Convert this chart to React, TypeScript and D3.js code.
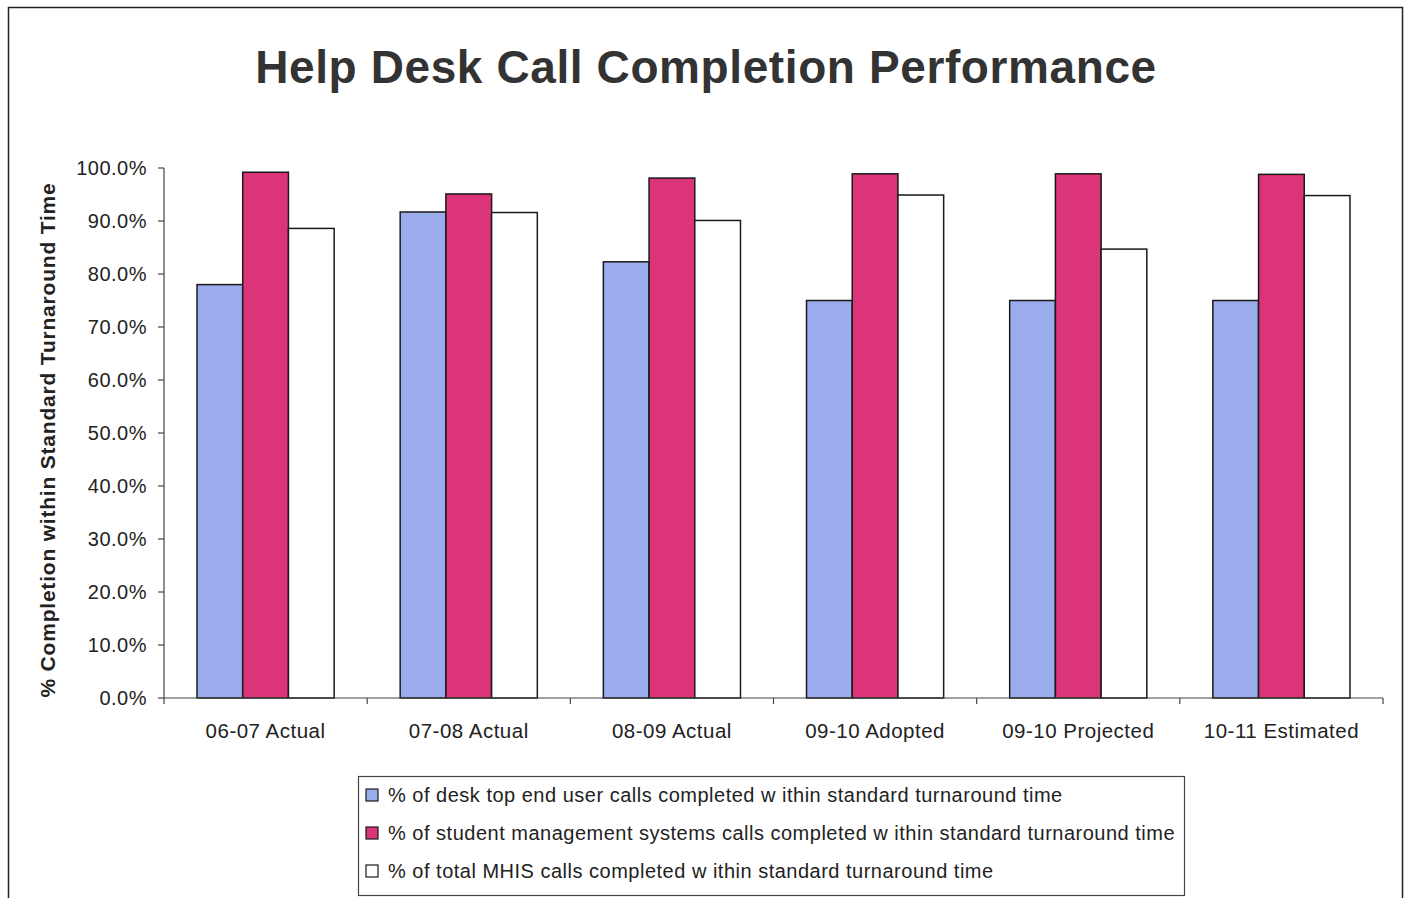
import React, { useEffect, useRef } from "react";
import * as d3 from "d3";

const categories = ["06-07 Actual", "07-08 Actual", "08-09 Actual", "09-10 Adopted", "09-10 Projected", "10-11 Estimated"];
const seriesNames = [
  "% of desk top end user calls completed w ithin standard turnaround time",
  "% of student management systems calls completed w ithin standard turnaround time",
  "% of total MHIS calls completed w ithin standard turnaround time",
];
const deskTop = [78.0, 91.7, 82.3, 75.0, 75.0, 75.0];
const studentMgmt = [99.2, 95.1, 98.1, 98.9, 98.9, 98.8];
const totalMhis = [88.6, 91.6, 90.1, 94.9, 84.7, 94.8];
const seriesColors = ["#9aaceb", "#dc3478", "#ffffff"];
const yTicks = [0, 10, 20, 30, 40, 50, 60, 70, 80, 90, 100];

const App = () => {
  const svgRef = useRef<SVGSVGElement>(null);

  useEffect(() => {
    const svg = d3.select(svgRef.current);
    svg.selectAll("*").remove();
    const font = "'Liberation Sans', Arial, sans-serif";

    const left = 164;
    const right = 1383;
    const top = 168;
    const bottom = 698;

    // outer frame
    svg.append("rect")
      .attr("x", 8.5).attr("y", 7.5).attr("width", 1394).attr("height", 900)
      .attr("fill", "#fff").attr("stroke", "#222").attr("stroke-width", 1.5);

    svg.append("text")
      .attr("x", 706).attr("y", 83)
      .attr("text-anchor", "middle")
      .attr("font-family", font).attr("font-weight", "bold")
      .attr("font-size", 46).attr("letter-spacing", 0.6).attr("fill", "#333")
      .text("Help Desk Call Completion Performance");

    const x0 = d3.scaleBand().domain(categories).range([left, right]).paddingInner(0.325).paddingOuter(0.1625);
    const step = (right - left) / categories.length;
    const groupW = x0.bandwidth();
    const x1 = d3.scaleBand().domain(["0", "1", "2"]).range([0, groupW]);
    const y = d3.scaleLinear().domain([0, 100]).range([bottom, top]);

    const allSeries = [deskTop, studentMgmt, totalMhis];
    allSeries.forEach((vals, si) => {
      svg.append("g").selectAll("rect")
        .data(vals)
        .join("rect")
        .attr("x", (_d, i) => (x0(categories[i]) as number) + (x1(String(si)) as number))
        .attr("y", (d) => y(d))
        .attr("width", x1.bandwidth())
        .attr("height", (d) => bottom - y(d))
        .attr("fill", seriesColors[si])
        .attr("stroke", "#1a1a1a")
        .attr("stroke-width", 1.5);
    });

    // y axis
    const ya = svg.append("g");
    ya.append("line").attr("x1", left).attr("x2", left).attr("y1", top).attr("y2", bottom)
      .attr("stroke", "#444").attr("stroke-width", 1.2);
    yTicks.forEach((t) => {
      ya.append("line").attr("x1", left - 6).attr("x2", left).attr("y1", y(t)).attr("y2", y(t))
        .attr("stroke", "#444").attr("stroke-width", 1.2);
      ya.append("text")
        .attr("x", 147).attr("y", y(t) + 7)
        .attr("text-anchor", "end")
        .attr("font-family", font).attr("font-size", 20).attr("letter-spacing", 0.5).attr("fill", "#222")
        .text(t.toFixed(1) + "%");
    });

    // x axis
    const xa = svg.append("g");
    xa.append("line").attr("x1", left).attr("x2", right).attr("y1", bottom).attr("y2", bottom)
      .attr("stroke", "#444").attr("stroke-width", 1.2);
    d3.range(categories.length + 1).forEach((i) => {
      xa.append("line").attr("x1", left + i * step).attr("x2", left + i * step)
        .attr("y1", bottom).attr("y2", bottom + 6)
        .attr("stroke", "#444").attr("stroke-width", 1.2);
    });
    categories.forEach((c) => {
      xa.append("text")
        .attr("x", (x0(c) as number) + groupW / 2).attr("y", 738)
        .attr("text-anchor", "middle")
        .attr("font-family", font).attr("font-size", 20.5).attr("letter-spacing", 0.5).attr("fill", "#222")
        .text(c);
    });

    svg.append("text")
      .attr("transform", `translate(55,440) rotate(-90)`)
      .attr("text-anchor", "middle")
      .attr("font-family", font).attr("font-weight", "bold")
      .attr("font-size", 21).attr("letter-spacing", 0.8).attr("fill", "#222")
      .text("% Completion within Standard Turnaround Time");

    // legend
    const lg = svg.append("g");
    lg.append("rect").attr("x", 358.5).attr("y", 776.5).attr("width", 826).attr("height", 119)
      .attr("fill", "#fff").attr("stroke", "#444").attr("stroke-width", 1.2);
    seriesNames.forEach((name, i) => {
      const cy = 795 + i * 38;
      lg.append("rect").attr("x", 366).attr("y", cy - 6).attr("width", 12).attr("height", 12)
        .attr("fill", seriesColors[i]).attr("stroke", "#1a1a1a").attr("stroke-width", 1.2);
      lg.append("text")
        .attr("x", 388).attr("y", cy + 7)
        .attr("font-family", font).attr("font-size", 20).attr("letter-spacing", 0.5).attr("fill", "#222")
        .text(name);
    });
  }, []);

  return (
    <svg ref={svgRef} width={1405} height={898} viewBox="0 0 1405 898"
      style={{ position: "absolute", left: 0, top: 0, background: "#fff" }} />
  );
};

export default App;
